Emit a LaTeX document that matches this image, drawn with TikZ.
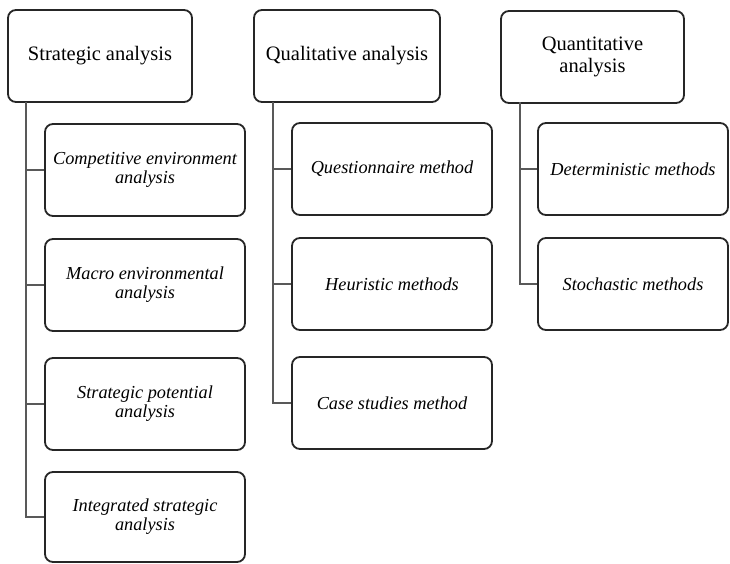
\documentclass[tikz,border=0pt]{standalone}
\usepackage{fontspec}
\setmainfont{Liberation Serif}
\begin{document}
\begin{tikzpicture}[x=1pt,y=-1pt,
  headbox/.style={draw=black!85, line width=1.8pt, rounded corners=8pt, fill=white,
    align=center, inner sep=0pt, minimum height=92pt,
    font=\fontsize{20.5}{21.5}\selectfont},
  itembox/.style={draw=black!85, line width=1.8pt, rounded corners=8pt, fill=white,
    align=center, inner sep=0pt, minimum width=200pt, minimum height=92pt,
    font=\fontsize{18.3}{19}\selectfont\itshape},
  conn/.style={draw=black!65, line width=1.3pt}]
\useasboundingbox (0,0) rectangle (730,563);

% column headers
\node[headbox, minimum width=184pt] (sa) at (100,56) {Strategic analysis};
\node[headbox, minimum width=186pt] (ql) at (347,56) {Qualitative analysis};
\node[headbox, minimum width=183pt] (qn) at (592.5,57) {Quantitative\\analysis};

% strategic analysis items
\node[itembox] (s1) at (145,170) {Competitive environment\\analysis};
\node[itembox] (s2) at (145,285) {Macro environmental\\analysis};
\node[itembox] (s3) at (145,404) {Strategic potential\\analysis};
\node[itembox, minimum height=90pt] (s4) at (145,517) {Integrated strategic\\analysis};

% qualitative analysis items
\node[itembox] (q1) at (392,169) {Questionnaire method};
\node[itembox] (q2) at (392,284) {Heuristic methods};
\node[itembox] (q3) at (392,403) {Case studies method};

% quantitative analysis items
\node[itembox, minimum width=190pt] (n1) at (633,169) {Deterministic methods};
\node[itembox, minimum width=190pt] (n2) at (633,284) {Stochastic methods};

% trunk lines
\coordinate (ts) at (26,102);
\coordinate (tq) at (273,102);
\coordinate (tn) at (520,102);

\draw[conn] (ts) |- (s4.west);
\draw[conn] (ts |- s1.west) -- (s1.west);
\draw[conn] (ts |- s2.west) -- (s2.west);
\draw[conn] (ts |- s3.west) -- (s3.west);

\draw[conn] (tq) |- (q3.west);
\draw[conn] (tq |- q1.west) -- (q1.west);
\draw[conn] (tq |- q2.west) -- (q2.west);

\draw[conn] (tn) |- (n2.west);
\draw[conn] (tn |- n1.west) -- (n1.west);
\end{tikzpicture}
\end{document}
